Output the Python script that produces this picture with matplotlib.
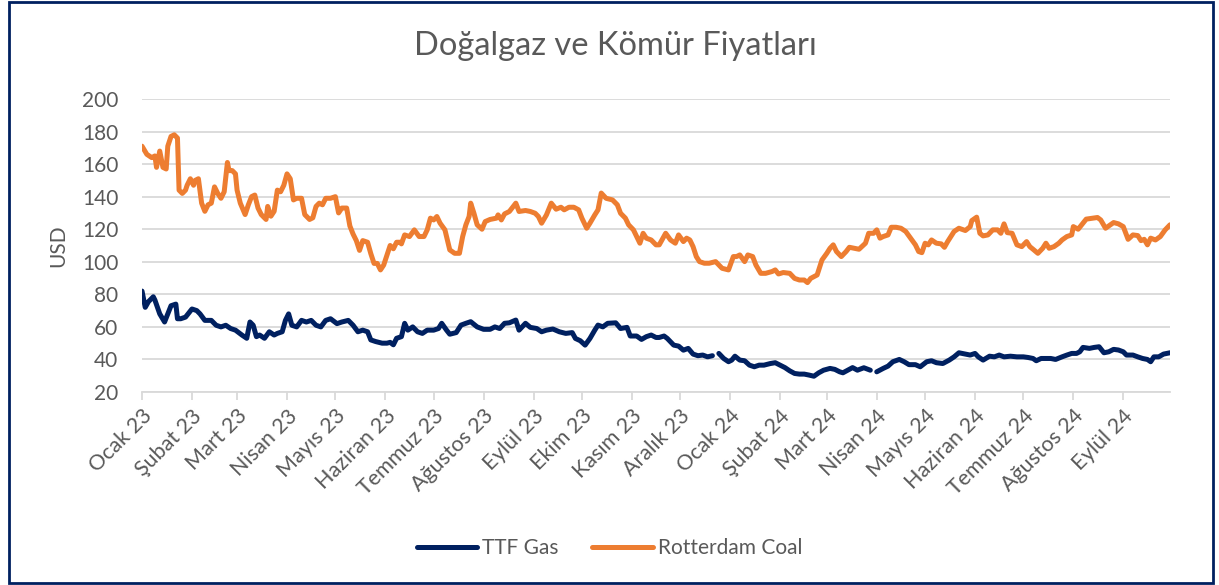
import matplotlib
matplotlib.use("Agg")
import matplotlib.pyplot as plt
from matplotlib.patches import Rectangle
import numpy as np
import pandas as pd

title = "Doğalgaz ve Kömür Fiyatları"
y_label = "USD"
series_names = ["TTF Gas", "Rotterdam Coal"]
month_labels = ["Ocak 23", "Şubat 23", "Mart 23", "Nisan 23", "Mayıs 23", "Haziran 23",
                "Temmuz 23", "Ağustos 23", "Eylül 23", "Ekim 23", "Kasım 23", "Aralık 23",
                "Ocak 24", "Şubat 24", "Mart 24", "Nisan 24", "Mayıs 24", "Haziran 24",
                "Temmuz 24", "Ağustos 24", "Eylül 24"]

coal_dates = [
    "2023-01-01", "2023-01-04", "2023-01-07", "2023-01-09", "2023-01-10", "2023-01-12", "2023-01-13",
    "2023-01-14", "2023-01-16", "2023-01-17", "2023-01-19", "2023-01-21", "2023-01-23", "2023-01-24",
    "2023-01-26", "2023-01-28", "2023-01-29", "2023-01-31", "2023-02-02", "2023-02-03", "2023-02-05",
    "2023-02-07", "2023-02-09", "2023-02-11", "2023-02-13", "2023-02-15", "2023-02-17", "2023-02-19",
    "2023-02-21", "2023-02-23", "2023-02-24", "2023-02-26", "2023-02-28", "2023-03-01", "2023-03-03",
    "2023-03-06", "2023-03-08", "2023-03-10", "2023-03-12", "2023-03-14", "2023-03-16", "2023-03-19",
    "2023-03-20", "2023-03-22", "2023-03-24", "2023-03-26", "2023-03-28", "2023-03-30", "2023-04-01",
    "2023-04-03", "2023-04-05", "2023-04-07", "2023-04-10", "2023-04-12", "2023-04-15", "2023-04-17",
    "2023-04-19", "2023-04-21", "2023-04-23", "2023-04-25", "2023-04-28", "2023-05-01", "2023-05-03",
    "2023-05-05", "2023-05-08", "2023-05-10", "2023-05-12", "2023-05-14", "2023-05-16", "2023-05-18",
    "2023-05-21", "2023-05-23", "2023-05-25", "2023-05-27", "2023-05-29", "2023-05-31", "2023-06-02",
    "2023-06-04", "2023-06-06", "2023-06-08", "2023-06-10", "2023-06-11", "2023-06-13", "2023-06-16",
    "2023-06-19", "2023-06-22", "2023-06-25", "2023-06-27", "2023-06-29", "2023-07-01", "2023-07-03",
    "2023-07-05", "2023-07-08", "2023-07-11", "2023-07-14", "2023-07-17", "2023-07-19", "2023-07-21",
    "2023-07-23", "2023-07-24", "2023-07-26", "2023-07-28", "2023-07-31", "2023-08-02", "2023-08-05",
    "2023-08-09", "2023-08-10", "2023-08-12", "2023-08-14", "2023-08-17", "2023-08-21", "2023-08-23",
    "2023-08-27", "2023-08-30", "2023-09-02", "2023-09-04", "2023-09-06", "2023-09-09", "2023-09-12",
    "2023-09-15", "2023-09-18", "2023-09-20", "2023-09-23", "2023-09-26", "2023-09-29", "2023-10-01",
    "2023-10-04", "2023-10-06", "2023-10-09", "2023-10-11", "2023-10-13", "2023-10-16", "2023-10-20",
    "2023-10-23", "2023-10-25", "2023-10-28", "2023-10-30", "2023-11-02", "2023-11-04", "2023-11-06",
    "2023-11-08", "2023-11-10", "2023-11-13", "2023-11-16", "2023-11-18", "2023-11-22", "2023-11-25",
    "2023-11-28", "2023-11-30", "2023-12-03", "2023-12-05", "2023-12-07", "2023-12-09", "2023-12-11",
    "2023-12-13", "2023-12-16", "2023-12-19", "2023-12-23", "2023-12-27", "2023-12-31", "2024-01-03",
    "2024-01-05", "2024-01-07", "2024-01-10", "2024-01-12", "2024-01-15", "2024-01-17", "2024-01-20",
    "2024-01-23", "2024-01-27", "2024-01-29", "2024-01-31", "2024-02-03", "2024-02-07", "2024-02-10",
    "2024-02-13", "2024-02-16", "2024-02-18", "2024-02-20", "2024-02-24", "2024-02-27", "2024-03-01",
    "2024-03-03", "2024-03-05", "2024-03-07", "2024-03-10", "2024-03-13", "2024-03-15", "2024-03-18",
    "2024-03-21", "2024-03-25", "2024-03-27", "2024-03-30", "2024-04-01", "2024-04-03", "2024-04-05",
    "2024-04-08", "2024-04-10", "2024-04-13", "2024-04-16", "2024-04-19", "2024-04-22", "2024-04-25",
    "2024-04-27", "2024-04-29", "2024-05-01", "2024-05-03", "2024-05-05", "2024-05-08", "2024-05-11",
    "2024-05-13", "2024-05-15", "2024-05-17", "2024-05-19", "2024-05-22", "2024-05-26", "2024-05-29",
    "2024-05-30", "2024-06-02", "2024-06-04", "2024-06-06", "2024-06-09", "2024-06-12", "2024-06-15",
    "2024-06-17", "2024-06-19", "2024-06-21", "2024-06-24", "2024-06-27", "2024-06-30", "2024-07-03",
    "2024-07-05", "2024-07-07", "2024-07-10", "2024-07-13", "2024-07-15", "2024-07-17", "2024-07-20",
    "2024-07-23", "2024-07-25", "2024-07-28", "2024-07-31", "2024-08-01", "2024-08-04", "2024-08-07",
    "2024-08-09", "2024-08-13", "2024-08-16", "2024-08-18", "2024-08-21", "2024-08-24", "2024-08-26",
    "2024-08-29", "2024-09-01", "2024-09-04", "2024-09-07", "2024-09-10", "2024-09-12", "2024-09-14",
    "2024-09-16", "2024-09-18", "2024-09-21", "2024-09-24", "2024-09-27", "2024-09-30"]
coal_values = [
    171, 166, 164, 165, 158, 168, 163,
    158, 157, 171, 177, 178, 176, 144,
    142, 144, 147, 151, 147, 150, 151,
    136, 131, 135, 136, 146, 142, 139,
    143, 161, 156, 156, 154, 144, 136,
    129, 135, 140, 141, 133, 129, 126,
    134, 128, 131, 144, 143, 147, 154,
    151, 138, 139, 139, 129, 126, 127,
    134, 136, 135, 139, 139, 140, 130,
    133, 133, 122, 117, 113, 107, 113,
    112, 105, 99, 99, 95, 98, 104,
    110, 108, 112, 112, 111, 116.5, 115.5,
    119.6, 115.5, 115.5, 119.6, 126.8, 125.7, 127.8,
    123.7, 119.6, 107.3, 105.2, 105.2, 115.5, 122.7,
    127.8, 136, 129.8, 122.7, 120, 124.7, 126,
    126.8, 128.8, 125.7, 129.4, 130.9, 136, 130.9,
    131.5, 130.9, 129.8, 127.8, 123.7, 128.8, 136,
    132.3, 133.5, 131.9, 133.5, 133.5, 131.9, 126.8,
    120.6, 123.7, 128.8, 131.9, 142.2, 139, 138,
    135, 129.8, 126.8, 122.7, 119.6, 115.5, 111.4,
    117.5, 114.5, 113.4, 110.4, 110.4, 117.5, 113.4,
    111.4, 116.5, 112.4, 114.5, 113.4, 109.3, 103.2,
    100.1, 99.1, 99.1, 100.1, 96, 95, 103.2,
    103.2, 104.2, 100.1, 104.2, 103.2, 98, 92.9,
    92.9, 94, 95, 92.5, 93.4, 92.9, 89.8,
    88.8, 88.8, 87.2, 89.8, 91.9, 101.1, 105.2,
    108.3, 110.4, 106.3, 103.2, 106.3, 108.9, 108.3,
    107.7, 111.4, 117.5, 117.5, 119.6, 114.5, 115.5,
    116.5, 121.2, 121.2, 120.6, 118.6, 114.5, 110.4,
    106.3, 105.6, 111.4, 110.4, 113.4, 111.4, 111,
    108.9, 112.4, 115.5, 118.6, 120.6, 119.2, 121.6,
    125.3, 127.4, 117.5, 115.9, 116.5, 119.6, 119.6,
    117.5, 123.3, 117.9, 117.5, 110.4, 109.3, 112.4,
    109.3, 107.7, 105.2, 108.3, 111.4, 108.3, 109.3,
    111.4, 113.4, 115.5, 116.5, 121.6, 120, 123.7,
    126.2, 126.8, 127.2, 125.7, 120.6, 122.7, 124.1,
    123.3, 121.6, 113.8, 116.5, 116.1, 113, 113.8,
    110.4, 114.5, 113.4, 115.5, 119.6, 122.7]

gas_dates = [
    "2023-01-01", "2023-01-03", "2023-01-05", "2023-01-08", "2023-01-09", "2023-01-12", "2023-01-15",
    "2023-01-17", "2023-01-19", "2023-01-22", "2023-01-23", "2023-01-25", "2023-01-28", "2023-02-01",
    "2023-02-04", "2023-02-06", "2023-02-09", "2023-02-13", "2023-02-16", "2023-02-19", "2023-02-22",
    "2023-02-25", "2023-02-28", "2023-03-04", "2023-03-07", "2023-03-09", "2023-03-11", "2023-03-13",
    "2023-03-15", "2023-03-18", "2023-03-21", "2023-03-24", "2023-03-26", "2023-03-29", "2023-03-31",
    "2023-04-02", "2023-04-04", "2023-04-07", "2023-04-10", "2023-04-13", "2023-04-16", "2023-04-19",
    "2023-04-22", "2023-04-25", "2023-04-28", "2023-05-02", "2023-05-05", "2023-05-09", "2023-05-12",
    "2023-05-15", "2023-05-18", "2023-05-21", "2023-05-23", "2023-05-26", "2023-05-30", "2023-06-02",
    "2023-06-04", "2023-06-06", "2023-06-08", "2023-06-11", "2023-06-13", "2023-06-15", "2023-06-18",
    "2023-06-21", "2023-06-24", "2023-06-27", "2023-07-01", "2023-07-04", "2023-07-06", "2023-07-09",
    "2023-07-11", "2023-07-15", "2023-07-18", "2023-07-21", "2023-07-24", "2023-07-28", "2023-08-01",
    "2023-08-05", "2023-08-08", "2023-08-11", "2023-08-14", "2023-08-17", "2023-08-21", "2023-08-23",
    "2023-08-27", "2023-08-30", "2023-09-03", "2023-09-06", "2023-09-09", "2023-09-13", "2023-09-17",
    "2023-09-21", "2023-09-25", "2023-09-27", "2023-09-30", "2023-10-03", "2023-10-06", "2023-10-09",
    "2023-10-11", "2023-10-14", "2023-10-17", "2023-10-22", "2023-10-25", "2023-10-29", "2023-10-31",
    "2023-11-04", "2023-11-07", "2023-11-10", "2023-11-13", "2023-11-16", "2023-11-18", "2023-11-21",
    "2023-11-23", "2023-11-27", "2023-11-30", "2023-12-03", "2023-12-06", "2023-12-09", "2023-12-12",
    "2023-12-15", "2023-12-18", "2023-12-21", "2023-12-23", "2023-12-25", "2023-12-28", "2023-12-31",
    "2024-01-02", "2024-01-04", "2024-01-07", "2024-01-10", "2024-01-13", "2024-01-16", "2024-01-19",
    "2024-01-22", "2024-01-26", "2024-01-29", "2024-02-01", "2024-02-04", "2024-02-07", "2024-02-10",
    "2024-02-13", "2024-02-16", "2024-02-19", "2024-02-22", "2024-02-25", "2024-02-28", "2024-03-03",
    "2024-03-06", "2024-03-09", "2024-03-11", "2024-03-14", "2024-03-17", "2024-03-20", "2024-03-24",
    "2024-03-28", "2024-03-30", "2024-04-01", "2024-04-05", "2024-04-08", "2024-04-11", "2024-04-15",
    "2024-04-18", "2024-04-21", "2024-04-25", "2024-04-28", "2024-05-02", "2024-05-05", "2024-05-08",
    "2024-05-12", "2024-05-16", "2024-05-19", "2024-05-22", "2024-05-26", "2024-05-29", "2024-06-01",
    "2024-06-03", "2024-06-06", "2024-06-10", "2024-06-13", "2024-06-16", "2024-06-19", "2024-06-23",
    "2024-06-27", "2024-07-01", "2024-07-04", "2024-07-07", "2024-07-09", "2024-07-12", "2024-07-15",
    "2024-07-18", "2024-07-21", "2024-07-25", "2024-07-28", "2024-07-31", "2024-08-03", "2024-08-05",
    "2024-08-07", "2024-08-11", "2024-08-14", "2024-08-17", "2024-08-20", "2024-08-23", "2024-08-26",
    "2024-08-29", "2024-09-01", "2024-09-03", "2024-09-07", "2024-09-10", "2024-09-13", "2024-09-16",
    "2024-09-18", "2024-09-20", "2024-09-23", "2024-09-26", "2024-09-30"]
gas_values = [
    82, 72, 75.5, 78.5, 76.5, 68, 63,
    68, 73, 74, 65, 65, 66, 71,
    70, 68, 64, 64, 61, 60, 61,
    59, 58, 55, 53, 63, 61, 54,
    55, 53, 57, 55, 56, 57, 64,
    68, 61, 60, 64, 63, 64, 61,
    60, 64, 65, 62, 63, 64, 61,
    57, 58, 57, 52, 51, 50, 50,
    50.5, 49, 53, 54, 62.2, 58, 60,
    57, 56, 58, 58, 59, 62.2, 58,
    55.5, 56.5, 61.1, 62.2, 63.2, 60, 58.5,
    58.5, 60, 59, 62.2, 62.5, 64.2, 58,
    62.2, 59.7, 59, 57, 58, 58.7, 57,
    56, 56.5, 52.9, 51.5, 48.8, 52.9, 58,
    61.1, 60, 62.2, 62.5, 59, 59.7, 54.4,
    54.4, 52.3, 54, 55, 53.5, 53.5, 54.4,
    52.9, 48.8, 48.2, 45.7, 46.8, 43.3, 42.3,
    42.7, 41.6, 42.3, np.nan, 43.7, 40.6, 38.6,
    39.6, 42, 39.6, 39.2, 36.5, 35.5, 36.5,
    36.5, 37.5, 38, 36.5, 35, 33, 31.4,
    31, 31, 30.4, 29.7, 31.8, 33.4, 34.5,
    33.9, 32.4, 31.8, 33.4, 35, 33.4, 34.9,
    33.4, np.nan, 32.4, 34.5, 35.9, 38.6, 40,
    38.6, 36.8, 36.8, 35.5, 38.6, 39.2, 38,
    37.5, 39.6, 41.6, 44.1, 43.3, 42.7, 43.7,
    41.6, 39.6, 42, 41.6, 42.7, 41.6, 42,
    41.6, 41.6, 41.2, 40.6, 39.2, 40.6, 40.6,
    40.6, 40, 41.6, 42.7, 43.7, 43.7, 44.7,
    47.4, 46.8, 47.4, 47.8, 44.1, 44.7, 46.2,
    45.8, 44.7, 42.7, 42.7, 41.6, 40.6, 40,
    38.6, 41.6, 41.6, 43.3, 44.1]

navy = "#002060"
orange = "#ED7D31"
text_gray = "#595959"
grid_gray = "#D9D9D9"

plt.rcParams['font.family'] = ['Lato', 'DejaVu Sans']

fig = plt.figure(figsize=(12.19, 5.85), dpi=100)
ax = fig.add_axes([0.1165, 0.3299, 0.9598 - 0.1165, 0.8308 - 0.3299])

gd = pd.to_datetime(gas_dates)
cd = pd.to_datetime(coal_dates)
ax.plot(gd, gas_values, color=navy, lw=3.6, solid_capstyle='round', solid_joinstyle='round',
        label=series_names[0], zorder=3)
ax.plot(cd, coal_values, color=orange, lw=3.6, solid_capstyle='round', solid_joinstyle='round',
        label=series_names[1], zorder=3)

ax.set_ylim(20, 200)
ax.set_yticks(np.arange(20, 201, 20))
ax.set_xlim(pd.Timestamp("2023-01-01"), pd.Timestamp("2024-09-30"))
ticks = pd.date_range("2023-01-01", "2024-09-01", freq="MS")
ax.set_xticks(ticks)
ax.set_xticklabels(month_labels, rotation=45, ha='right', rotation_mode='anchor')

ax.grid(axis='y', color=grid_gray, lw=1.3)
ax.set_axisbelow(True)
for s in ['top', 'right', 'left']:
    ax.spines[s].set_visible(False)
ax.spines['bottom'].set_color(grid_gray)
ax.spines['bottom'].set_linewidth(1.3)
ax.tick_params(axis='y', length=0, labelsize=15, labelcolor=text_gray, pad=17)
ax.tick_params(axis='x', length=6, width=1.3, color=grid_gray, labelsize=15.5,
               labelcolor=text_gray, pad=4)

ax.set_ylabel(y_label, fontsize=15, color=text_gray, labelpad=10)
fig.text(0.505, 0.922, title, ha='center', va='center', fontsize=23.5, color=text_gray)

fig.legend(loc='center', bbox_to_anchor=(0.5, 0.063), ncol=2, frameon=False,
           fontsize=15, labelcolor=text_gray, handlelength=2.9, columnspacing=1.6,
           handletextpad=0.25)

fig.patches.append(Rectangle((0.007, 0.004), 0.988, 0.993, transform=fig.transFigure,
                             fill=False, edgecolor=navy, lw=2))

fig.savefig("out.png", dpi=100)
